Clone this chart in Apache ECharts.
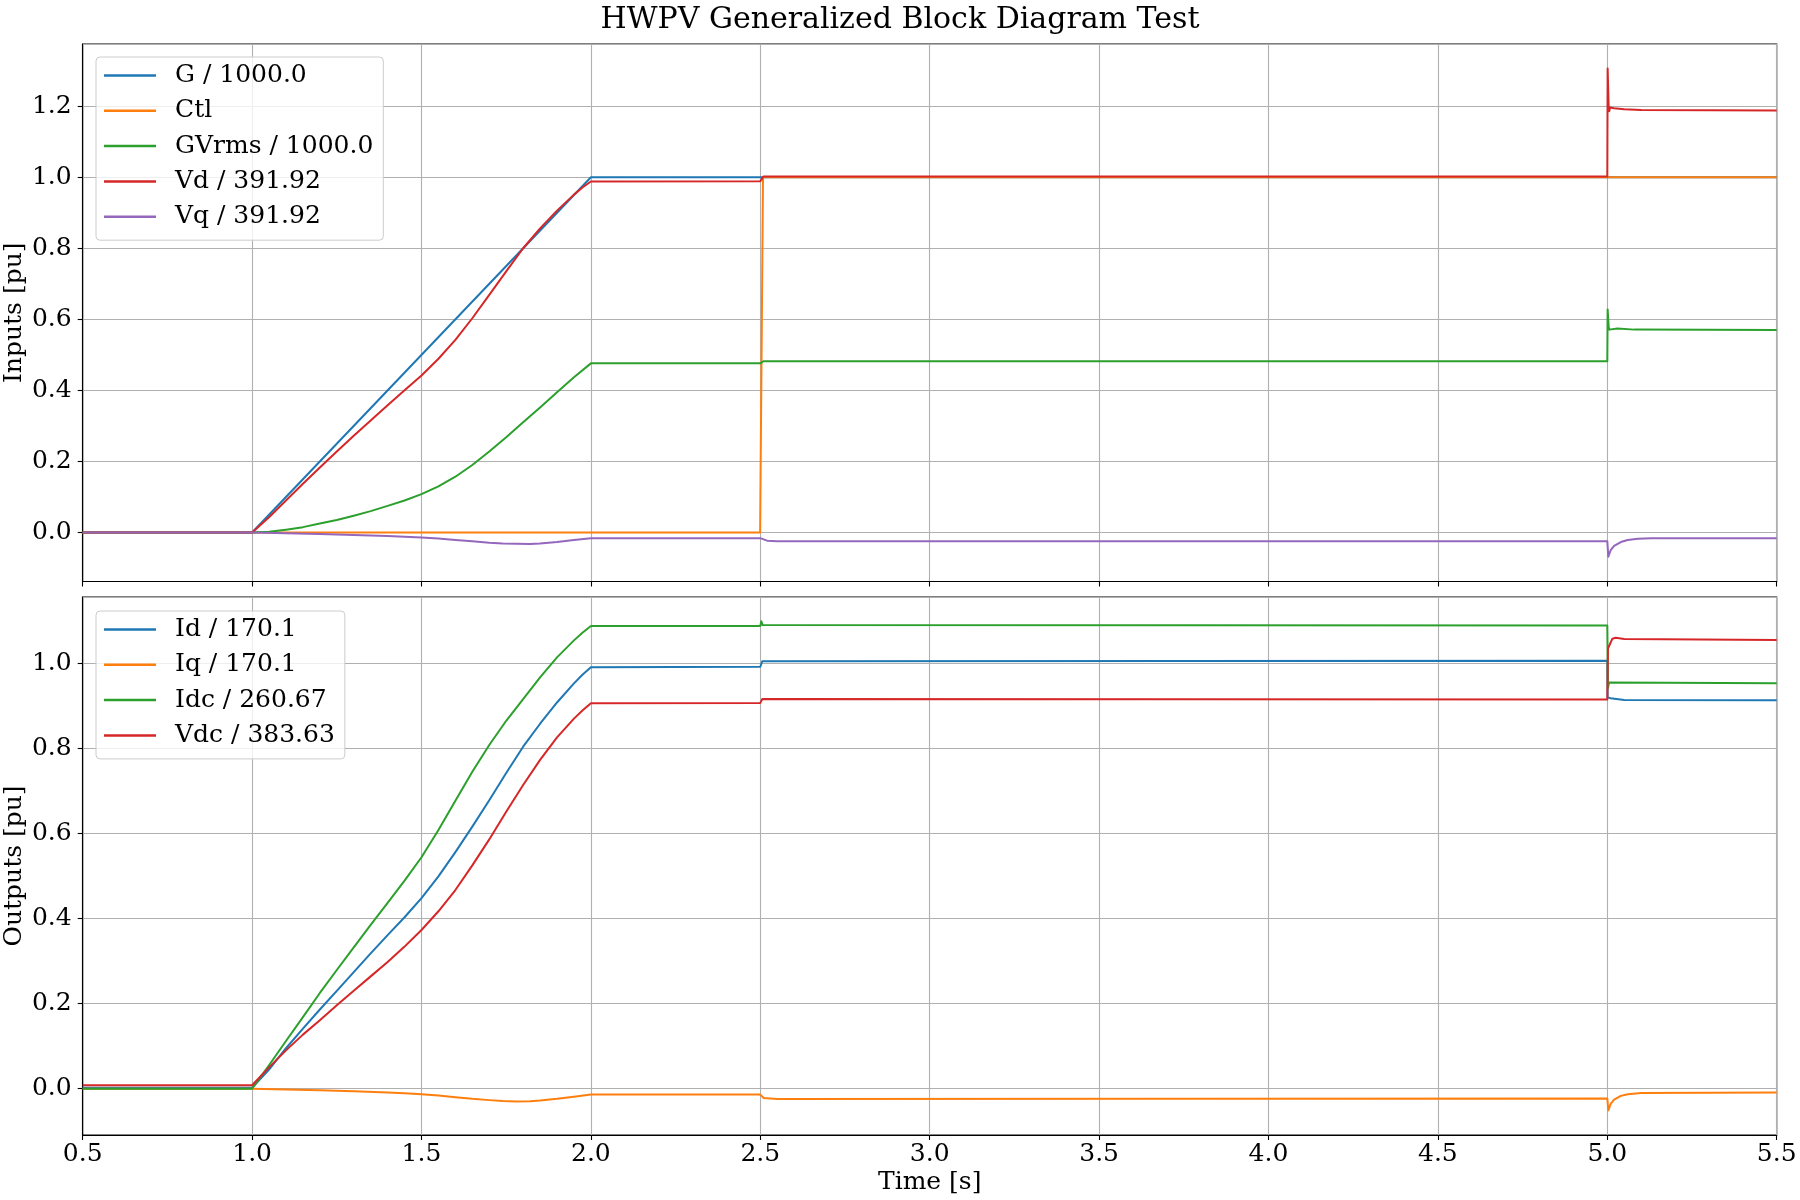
<!DOCTYPE html>
<html>
<head>
<meta charset="utf-8">
<script src="https://cdn.jsdelivr.net/npm/echarts@6/dist/echarts.min.js"></script>
<style>
  html, body { margin: 0; padding: 0; background: #fff; }
  #chart { width: 1800px; height: 1200px; }
</style>
</head>
<body>
<div id="chart"></div>
<script>
// ---------- Data ----------
const xTickStep = 0.5;

// Inputs panel
const tG   = [0.5, 1.0, 2.0, 5.5];
const vG   = [0, 0, 1.0, 1.0];

const tCtl = [0.5, 2.4995, 2.508, 5.5];
const vCtl = [0, 0, 1.0, 1.0];

const tGV  = [0.5, 1.0, 1.05, 1.1, 1.15, 1.2, 1.25, 1.3, 1.35, 1.4, 1.45, 1.5, 1.55, 1.6, 1.65, 1.7, 1.75, 1.8, 1.85, 1.9, 1.95, 2.0,
              2.5, 2.509, 5.0, 5.001, 5.004, 5.006, 5.008, 5.03, 5.08, 5.5];
const vGV  = [0, 0, 0.002, 0.008, 0.015, 0.025, 0.035, 0.047, 0.06, 0.075, 0.09, 0.108, 0.13, 0.157, 0.19, 0.228, 0.268, 0.31, 0.352, 0.395, 0.437, 0.476,
              0.476, 0.482, 0.482, 0.628, 0.578, 0.571, 0.576, 0.574, 0.571, 0.570];

const tVd  = [0.5, 1.0, 1.05, 1.1, 1.15, 1.2, 1.25, 1.3, 1.35, 1.4, 1.45, 1.5, 1.55, 1.6, 1.65, 1.7, 1.75, 1.8, 1.85, 1.9, 1.95, 1.975, 2.0,
              2.5, 2.509, 5.0, 5.001, 5.004, 5.006, 5.008, 5.02, 5.05, 5.1, 5.5];
const vVd  = [0, 0, 0.043, 0.09, 0.137, 0.183, 0.228, 0.272, 0.315, 0.358, 0.40, 0.442, 0.489, 0.542, 0.603, 0.669, 0.735, 0.80, 0.856, 0.906, 0.951, 0.971, 0.988,
              0.989, 1.002, 1.002, 1.306, 1.2, 1.186, 1.196, 1.194, 1.191, 1.189, 1.188];

const tVq  = [0.5, 1.0, 1.1, 1.2, 1.3, 1.4, 1.45, 1.5, 1.55, 1.6, 1.65, 1.7, 1.74, 1.78, 1.82, 1.85, 1.9, 1.95, 2.0,
              2.5, 2.505, 2.52, 2.55, 5.0, 5.003, 5.01, 5.02, 5.04, 5.06, 5.09, 5.13, 5.5];
const vVq  = [0, 0, -0.002, -0.004, -0.007, -0.01, -0.012, -0.014, -0.017, -0.021, -0.025, -0.029, -0.031, -0.032, -0.0325, -0.031, -0.027, -0.021, -0.016,
              -0.016, -0.018, -0.023, -0.025, -0.025, -0.068, -0.05, -0.038, -0.027, -0.021, -0.018, -0.016, -0.016];

// Outputs panel
const tId  = [0.5, 1.0, 1.05, 1.1, 1.15, 1.2, 1.25, 1.3, 1.35, 1.4, 1.45, 1.5, 1.55, 1.6, 1.65, 1.7, 1.75, 1.8, 1.85, 1.9, 1.95, 1.975, 2.0,
              2.5, 2.506, 5.0, 5.001, 5.003, 5.01, 5.05, 5.5];
const vId  = [0.002, 0.002, 0.045, 0.095, 0.141, 0.186, 0.23, 0.274, 0.318, 0.361, 0.403, 0.448, 0.499, 0.556, 0.616, 0.678, 0.742, 0.804, 0.858, 0.908, 0.953, 0.973, 0.991,
              0.992, 1.005, 1.006, 0.92, 0.922, 0.918, 0.914, 0.913];

const tIq  = [0.5, 1.0, 1.1, 1.2, 1.3, 1.4, 1.45, 1.5, 1.55, 1.6, 1.65, 1.7, 1.74, 1.78, 1.82, 1.85, 1.9, 1.95, 2.0,
              2.5, 2.51, 2.55, 5.0, 5.003, 5.01, 5.02, 5.04, 5.06, 5.1, 5.5];
const vIq  = [0.0, 0.0, -0.002, -0.004, -0.006, -0.009, -0.011, -0.013, -0.016, -0.02, -0.024, -0.027, -0.029, -0.030, -0.0295, -0.028, -0.024, -0.019, -0.014,
              -0.014, -0.022, -0.0245, -0.023, -0.051, -0.036, -0.026, -0.017, -0.013, -0.010, -0.009];

const tIdc = [0.5, 1.0, 1.05, 1.1, 1.15, 1.2, 1.25, 1.3, 1.35, 1.4, 1.45, 1.5, 1.55, 1.6, 1.65, 1.7, 1.75, 1.8, 1.85, 1.9, 1.95, 1.975, 2.0,
              2.5, 2.503, 2.507, 5.0, 5.002, 5.005, 5.5];
const vIdc = [0.0, 0.0, 0.055, 0.112, 0.168, 0.225, 0.279, 0.332, 0.385, 0.437, 0.489, 0.544, 0.608, 0.677, 0.745, 0.808, 0.865, 0.916, 0.967, 1.014, 1.054, 1.072, 1.088,
              1.088, 1.099, 1.090, 1.089, 0.942, 0.955, 0.953];

const tVdc = [0.5, 1.0, 1.05, 1.1, 1.15, 1.2, 1.25, 1.3, 1.35, 1.4, 1.45, 1.5, 1.55, 1.6, 1.65, 1.7, 1.75, 1.8, 1.85, 1.9, 1.95, 1.975, 2.0,
              2.5, 2.506, 5.0, 5.002, 5.006, 5.015, 5.025, 5.05, 5.5];
const vVdc = [0.008, 0.008, 0.05, 0.09, 0.127, 0.161, 0.196, 0.23, 0.264, 0.298, 0.334, 0.373, 0.417, 0.467, 0.525, 0.586, 0.651, 0.714, 0.773, 0.826, 0.870, 0.889, 0.906,
              0.907, 0.916, 0.915, 1.035, 1.042, 1.058, 1.06, 1.057, 1.055];

const namesTop = ['G / 1000.0', 'Ctl', 'GVrms / 1000.0', 'Vd / 391.92', 'Vq / 391.92'];
const namesBot = ['Id / 170.1', 'Iq / 170.1', 'Idc / 260.67', 'Vdc / 383.63'];
const colors = ['#1f77b4', '#ff7f0e', '#2ca02c', '#d62728', '#9467bd'];

// ---------- Chart ----------
const zip = (t, v) => t.map((x, i) => [x, v[i]]);
const FONT = 'DejaVu Serif';
const fmt1 = v => (Math.abs(v) < 1e-9 ? 0 : v).toFixed(1);

const topData = [[tG, vG], [tCtl, vCtl], [tGV, vGV], [tVd, vVd], [tVq, vVq]];
const botData = [[tId, vId], [tIq, vIq], [tIdc, vIdc], [tVdc, vVdc]];

function mkSeries(names, data, idx) {
  return names.map((n, i) => ({
    name: n, type: 'line', xAxisIndex: idx, yAxisIndex: idx,
    data: zip(data[i][0], data[i][1]),
    showSymbol: false, symbol: 'none',
    color: colors[i],
    lineStyle: { width: 2, color: colors[i], join: 'round' },
    emphasis: { disabled: true },
    animation: false
  }));
}

function mkX(idx, showLabels) {
  return {
    type: 'value', gridIndex: idx, min: 0.5, max: 5.5, interval: xTickStep,
    axisLine: { show: true, onZero: false, lineStyle: { color: '#000', width: 1.1 } },
    axisTick: { show: true, inside: false, length: 5, lineStyle: { color: '#000', width: 1.1 } },
    axisLabel: { show: showLabels, formatter: fmt1, fontFamily: FONT, fontSize: 25, color: '#000', margin: 7 },
    splitLine: { show: true, lineStyle: { color: '#b0b0b0', width: 1.1 } },
    name: showLabels ? 'Time [s]' : '', nameLocation: 'middle', nameGap: 35, nameMoveOverlap: false,
    nameTextStyle: { fontFamily: FONT, fontSize: 25, color: '#000' }
  };
}

function mkY(idx, min, max, name) {
  return {
    type: 'value', gridIndex: idx, min: min, max: max,
    minInterval: 0.2, maxInterval: 0.2, splitNumber: 7,
    axisLine: { show: true, onZero: false, lineStyle: { color: '#000', width: 1.1 } },
    axisTick: { show: true, inside: false, length: 5, lineStyle: { color: '#000', width: 1.1 } },
    axisLabel: { formatter: fmt1, fontFamily: FONT, fontSize: 25, color: '#000', margin: 11,
                 showMinLabel: false, showMaxLabel: false },
    splitLine: { show: true, lineStyle: { color: '#b0b0b0', width: 1.1 } },
    name: name, nameLocation: 'middle', nameGap: 56, nameMoveOverlap: false,
    nameTextStyle: { fontFamily: FONT, fontSize: 25, color: '#000' }
  };
}

function mkLegend(names, top) {
  return {
    data: names, orient: 'vertical', left: 96, top: top,
    icon: 'rect', itemWidth: 52, itemHeight: 2.5, itemGap: 10.3,
    padding: [6, 10, 11, 8],
    backgroundColor: 'rgba(255,255,255,0.8)', borderColor: '#cccccc', borderWidth: 1, borderRadius: 4,
    textStyle: { fontFamily: FONT, fontSize: 25, lineHeight: 25, color: '#000', padding: [0, 0, 0, 14] },
    selectedMode: false
  };
}

const chart = echarts.init(document.getElementById('chart'), null, { renderer: 'canvas' });
chart.setOption({
  backgroundColor: '#fff',
  animation: false,
  textStyle: { fontFamily: FONT },
  title: {
    text: 'HWPV Generalized Block Diagram Test', left: 'center', top: 0,
    textStyle: { fontFamily: FONT, fontSize: 30, fontWeight: 'normal', color: '#000' }
  },
  grid: [
    { left: 82.7, right: 23.3, top: 44, height: 537.5, show: true, borderColor: '#000', borderWidth: 1.1,
      backgroundColor: 'transparent', containLabel: false, outerBoundsMode: 'none' },
    { left: 82.7, right: 23.3, top: 597, height: 538, show: true, borderColor: '#000', borderWidth: 1.1,
      backgroundColor: 'transparent', containLabel: false, outerBoundsMode: 'none' }
  ],
  xAxis: [mkX(0, false), mkX(1, true)],
  yAxis: [mkY(0, -0.138, 1.375, 'Inputs [pu]'), mkY(1, -0.109, 1.156, 'Outputs [pu]')],
  legend: [mkLegend(namesTop, 57), mkLegend(namesBot, 611)],
  series: mkSeries(namesTop, topData, 0).concat(mkSeries(namesBot, botData, 1))
});
</script>
</body>
</html>
